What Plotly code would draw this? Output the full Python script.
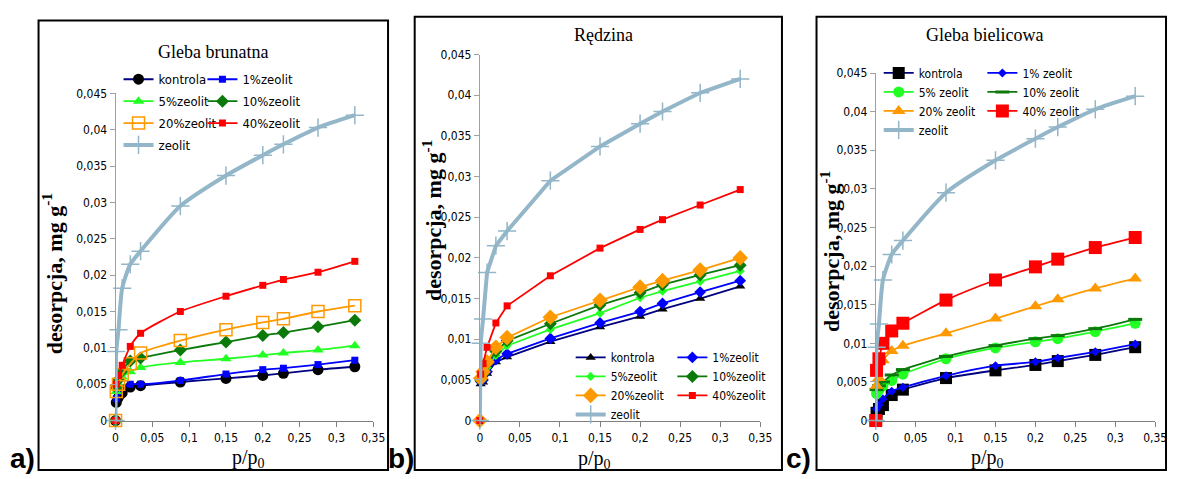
import plotly.graph_objects as go

# shared relative pressure points p/p0
p_rel = [0, 0.001, 0.004, 0.009, 0.02, 0.034, 0.088, 0.15, 0.2, 0.228, 0.275, 0.325]

# zeolit (same in all panels)
zeolit = [0, 0.0095, 0.0125, 0.0182, 0.0215, 0.0233, 0.0295, 0.0337, 0.0365, 0.0380, 0.0403, 0.0420]

# a) Gleba brunatna
a_kontrola = [0, 0.0025, 0.0032, 0.0038, 0.0046, 0.0048, 0.0053, 0.0058, 0.0062, 0.0065, 0.0070, 0.0074]
a_z1 = [0, 0.0030, 0.0040, 0.0045, 0.0050, 0.0050, 0.0055, 0.0064, 0.0070, 0.0072, 0.0077, 0.0083]
a_z5 = [0, 0.0040, 0.0050, 0.0060, 0.0067, 0.0073, 0.0080, 0.0085, 0.0090, 0.0093, 0.0097, 0.0103]
a_z10 = [0, 0.0045, 0.0056, 0.0068, 0.0082, 0.0086, 0.0097, 0.0108, 0.0117, 0.0121, 0.0129, 0.0138]
a_z20 = [0, 0.0040, 0.0050, 0.0063, 0.0078, 0.0093, 0.0110, 0.0125, 0.0135, 0.0140, 0.0150, 0.0158]
a_z40 = [0, 0.0050, 0.0062, 0.0076, 0.0102, 0.0120, 0.0150, 0.0171, 0.0186, 0.0194, 0.0204, 0.0219]

# b) Rędzina
b_kontrola = [0, 0.0045, 0.0047, 0.0058, 0.0072, 0.0078, 0.0097, 0.0115, 0.0128, 0.0137, 0.0150, 0.0165]
b_z1 = [0, 0.0048, 0.0050, 0.0060, 0.0075, 0.0082, 0.0101, 0.0120, 0.0134, 0.0144, 0.0158, 0.0172]
b_z5 = [0, 0.0050, 0.0055, 0.0065, 0.0080, 0.0092, 0.0112, 0.0132, 0.0151, 0.0159, 0.0171, 0.0184]
b_z10 = [0, 0.0050, 0.0057, 0.0070, 0.0085, 0.0098, 0.0119, 0.0142, 0.0157, 0.0167, 0.0179, 0.0191]
b_z20 = [0, 0.0052, 0.0060, 0.0072, 0.0090, 0.0102, 0.0127, 0.0148, 0.0164, 0.0172, 0.0185, 0.0200]
b_z40 = [0, 0.0057, 0.0070, 0.0090, 0.0120, 0.0141, 0.0178, 0.0212, 0.0235, 0.0247, 0.0265, 0.0284]

# c) Gleba bielicowa
c_kontrola = [0, 0.0010, 0.0015, 0.0020, 0.0033, 0.0040, 0.0055, 0.0065, 0.0072, 0.0077, 0.0085, 0.0095]
c_z1 = [0, 0.0015, 0.0020, 0.0028, 0.0038, 0.0043, 0.0058, 0.0071, 0.0076, 0.0081, 0.0089, 0.0099]
c_z5 = [0, 0.0035, 0.0040, 0.0045, 0.0052, 0.0060, 0.0080, 0.0094, 0.0102, 0.0106, 0.0115, 0.0126]
c_z10 = [0, 0.0040, 0.0045, 0.0050, 0.0059, 0.0066, 0.0083, 0.0097, 0.0106, 0.0110, 0.0119, 0.0131]
c_z20 = [0, 0.0045, 0.0055, 0.0078, 0.0090, 0.0097, 0.0113, 0.0132, 0.0148, 0.0157, 0.0171, 0.0184]
c_z40 = [0, 0.0065, 0.0080, 0.0100, 0.0116, 0.0126, 0.0156, 0.0182, 0.0199, 0.0209, 0.0224, 0.0237]

names_ab = ["kontrola", "1%zeolit", "5%zeolit", "10%zeolit", "20%zeolit", "40%zeolit", "zeolit"]
names_c = ["kontrola", "1% zeolit", "5% zeolit", "10% zeolit", "20% zeolit", "40% zeolit", "zeolit"]

titles = ["Gleba brunatna", "Rędzina", "Gleba bielicowa"]
panel_labels = ["a)", "b)", "c)"]
y_ticks = [0, 0.005, 0.01, 0.015, 0.02, 0.025, 0.03, 0.035, 0.04, 0.045]
x_ticks = [0, 0.05, 0.1, 0.15, 0.2, 0.25, 0.3, 0.35]

W, H = 1179, 479


def px(xp):
    return xp / W


def py(yp):
    return 1 - yp / H


TICKF = "DejaVu Sans Condensed, Liberation Sans Narrow, Arial Narrow, Liberation Sans, Arial, sans-serif"
SERIF = "Liberation Serif, Times New Roman, serif"

fig = go.Figure()

NAVY, BLUE, LIME, DGREEN, ORANGE, RED, ZCOL = "#000080", "#0000FF", "#22FF22", "#0B7A0B", "#FF9900", "#FF0000", "#93B6C8"
ZMK = dict(symbol="cross-thin-open", size=13, color=ZCOL, line=dict(width=1.5, color=ZCOL))

panels = [
    dict(vals=[a_kontrola, a_z1, a_z5, a_z10, a_z20, a_z40, zeolit], names=names_ab, shape="spline",
         styles=[
             (NAVY, dict(symbol="circle", size=11, color="black")),
             (BLUE, dict(symbol="square", size=7, color=BLUE)),
             (LIME, dict(symbol="triangle-up", size=10, color=LIME)),
             (DGREEN, dict(symbol="diamond", size=10, color=DGREEN)),
             (ORANGE, dict(symbol="square-open", size=12, color=ORANGE, line=dict(width=1.5, color=ORANGE))),
             (RED, dict(symbol="square", size=7, color=RED)),
             (ZCOL, ZMK),
         ]),
    dict(vals=[b_kontrola, b_z1, b_z5, b_z10, b_z20, b_z40, zeolit], names=names_ab, shape="linear",
         styles=[
             (NAVY, dict(symbol="triangle-up", size=9, color="black")),
             (BLUE, dict(symbol="diamond", size=9, color=BLUE)),
             (LIME, dict(symbol="diamond", size=7, color=LIME)),
             (DGREEN, dict(symbol="diamond", size=10, color=DGREEN)),
             (ORANGE, dict(symbol="diamond", size=12, color=ORANGE)),
             (RED, dict(symbol="square", size=7, color=RED)),
             (ZCOL, ZMK),
         ]),
    dict(vals=[c_kontrola, c_z1, c_z5, c_z10, c_z20, c_z40, zeolit], names=names_c, shape="spline",
         styles=[
             (NAVY, dict(symbol="square", size=12, color="black")),
             (BLUE, dict(symbol="diamond", size=7, color=BLUE)),
             (LIME, dict(symbol="circle", size=11, color=LIME)),
             (DGREEN, dict(symbol="line-ew-open", size=10, color=DGREEN, line=dict(width=3, color=DGREEN))),
             (ORANGE, dict(symbol="triangle-up", size=12, color=ORANGE)),
             (RED, dict(symbol="square", size=13, color=RED)),
             (ZCOL, ZMK),
         ]),
]

# plot-area boxes in page pixels: (left, right, top, bottom)
boxes = [(114, 375, 89, 426), (483, 767, 49, 426), (884, 1167, 68, 426)]
frames = [(36, 390, 14, 477), (417, 789, 10, 477), (824, 1178, 10, 477)]
title_pos = [(213, 46), (608, 29), (994, 29)]
ytitle_pos = [(50, 275), (434, 220), (837, 252)]
xtitle_pos = [(249, 465), (599, 466), (997, 465)]
label_pos = [(20, 465), (403, 465), (806, 465)]

# legend columns: (x_left_px, y_top_px, gap)
leg_cols = [
    [(117, 59, 2), (202, 59, 2)],
    [(575, 346, 0), (678, 346, 0)],
    [(887, 53, 0), (992, 53, 0)],
]

for i, pan in enumerate(panels):
    ax = "" if i == 0 else str(i + 1)
    for j, (vals, name, (lc, mk)) in enumerate(zip(pan["vals"], pan["names"], pan["styles"])):
        col = 0 if j % 2 == 0 else 1
        leg_idx = i * 2 + col + 1
        legname = "legend" if leg_idx == 1 else f"legend{leg_idx}"
        fig.add_trace(go.Scatter(
            x=p_rel, y=vals, name=name, mode="lines+markers",
            line=dict(color=lc, width=4 if j == 6 else 1.8, shape=pan["shape"], smoothing=0.6),
            marker=mk, cliponaxis=False,
            xaxis="x" + ax, yaxis="y" + ax,
            legend=legname, legendgroup=f"g{i}_{j}",
        ))
    l, r, t, b = boxes[i]
    tickfont = dict(family=TICKF, size=12, color="black")
    fig.update_layout(**{
        "xaxis" + ax: dict(domain=[px(l), px(r)], range=[0, 0.35], anchor="y" + ax,
                           tickvals=x_ticks, showline=True, linecolor="#7f7f7f", linewidth=1,
                           ticks="outside", ticklen=5, tickcolor="#7f7f7f", showgrid=False,
                           zeroline=False, tickfont=tickfont, ticklabelstandoff=1),
        "yaxis" + ax: dict(domain=[py(b), py(t)], range=[0, 0.045], anchor="x" + ax,
                           tickvals=y_ticks, showline=True, linecolor="#a0a0a0", linewidth=1,
                           ticks="outside", ticklen=5, tickcolor="#a0a0a0", showgrid=False,
                           zeroline=False, tickfont=tickfont),
    })
    for c, (lx, ly, gap) in enumerate(leg_cols[i]):
        leg_idx = i * 2 + c + 1
        legname = "legend" if leg_idx == 1 else f"legend{leg_idx}"
        fig.update_layout(**{legname: dict(
            x=px(lx), y=py(ly), xanchor="left", yanchor="top", xref="paper", yref="paper",
            bgcolor="rgba(0,0,0,0)", borderwidth=0, tracegroupgap=gap, itemsizing="trace",
            traceorder="grouped", itemwidth=30,
            font=dict(family=TICKF, size=13 if i == 0 else 12, color="black"),
        )})

    fl, fr, ft, fb = frames[i]
    fig.add_shape(type="rect", xref="paper", yref="paper", x0=px(fl), x1=px(fr), y0=py(fb), y1=py(ft),
                  line=dict(color="black", width=2), fillcolor="rgba(0,0,0,0)", layer="below")
    tx, ty = title_pos[i]
    fig.add_annotation(text=titles[i], x=px(tx), y=py(ty), xref="paper", yref="paper", showarrow=False,
                       xanchor="center", yanchor="middle", font=dict(family=SERIF, size=18, color="black"))
    yx, yy = ytitle_pos[i]
    fig.add_annotation(text="<b>desorpcja, mg g<sup>-1</sup></b>", x=px(yx), y=py(yy), xref="paper", yref="paper",
                       showarrow=False, textangle=-90, xanchor="center", yanchor="middle",
                       font=dict(family=SERIF, size=22, color="black"))
    xx, xy = xtitle_pos[i]
    fig.add_annotation(text="p/p<sub>0</sub>", x=px(xx), y=py(xy), xref="paper", yref="paper", showarrow=False,
                       xanchor="center", yanchor="middle", font=dict(family=SERIF, size=20, color="black"))
    lx_, ly_ = label_pos[i]
    fig.add_annotation(text="<b>" + panel_labels[i] + "</b>", x=px(lx_), y=py(ly_), xref="paper", yref="paper",
                       showarrow=False, xanchor="center", yanchor="middle",
                       font=dict(family="Liberation Sans, Arial, sans-serif", size=28, color="black"))

fig.update_layout(
    width=W, height=H, margin=dict(l=0, r=0, t=0, b=0),
    paper_bgcolor="white", plot_bgcolor="white", separators=",.",
    showlegend=True,
)

fig.write_html(
    "out.html",
    config={"displayModeBar": False},
    post_script="document.body.style.margin='0px';document.body.style.overflow='hidden';",
)
